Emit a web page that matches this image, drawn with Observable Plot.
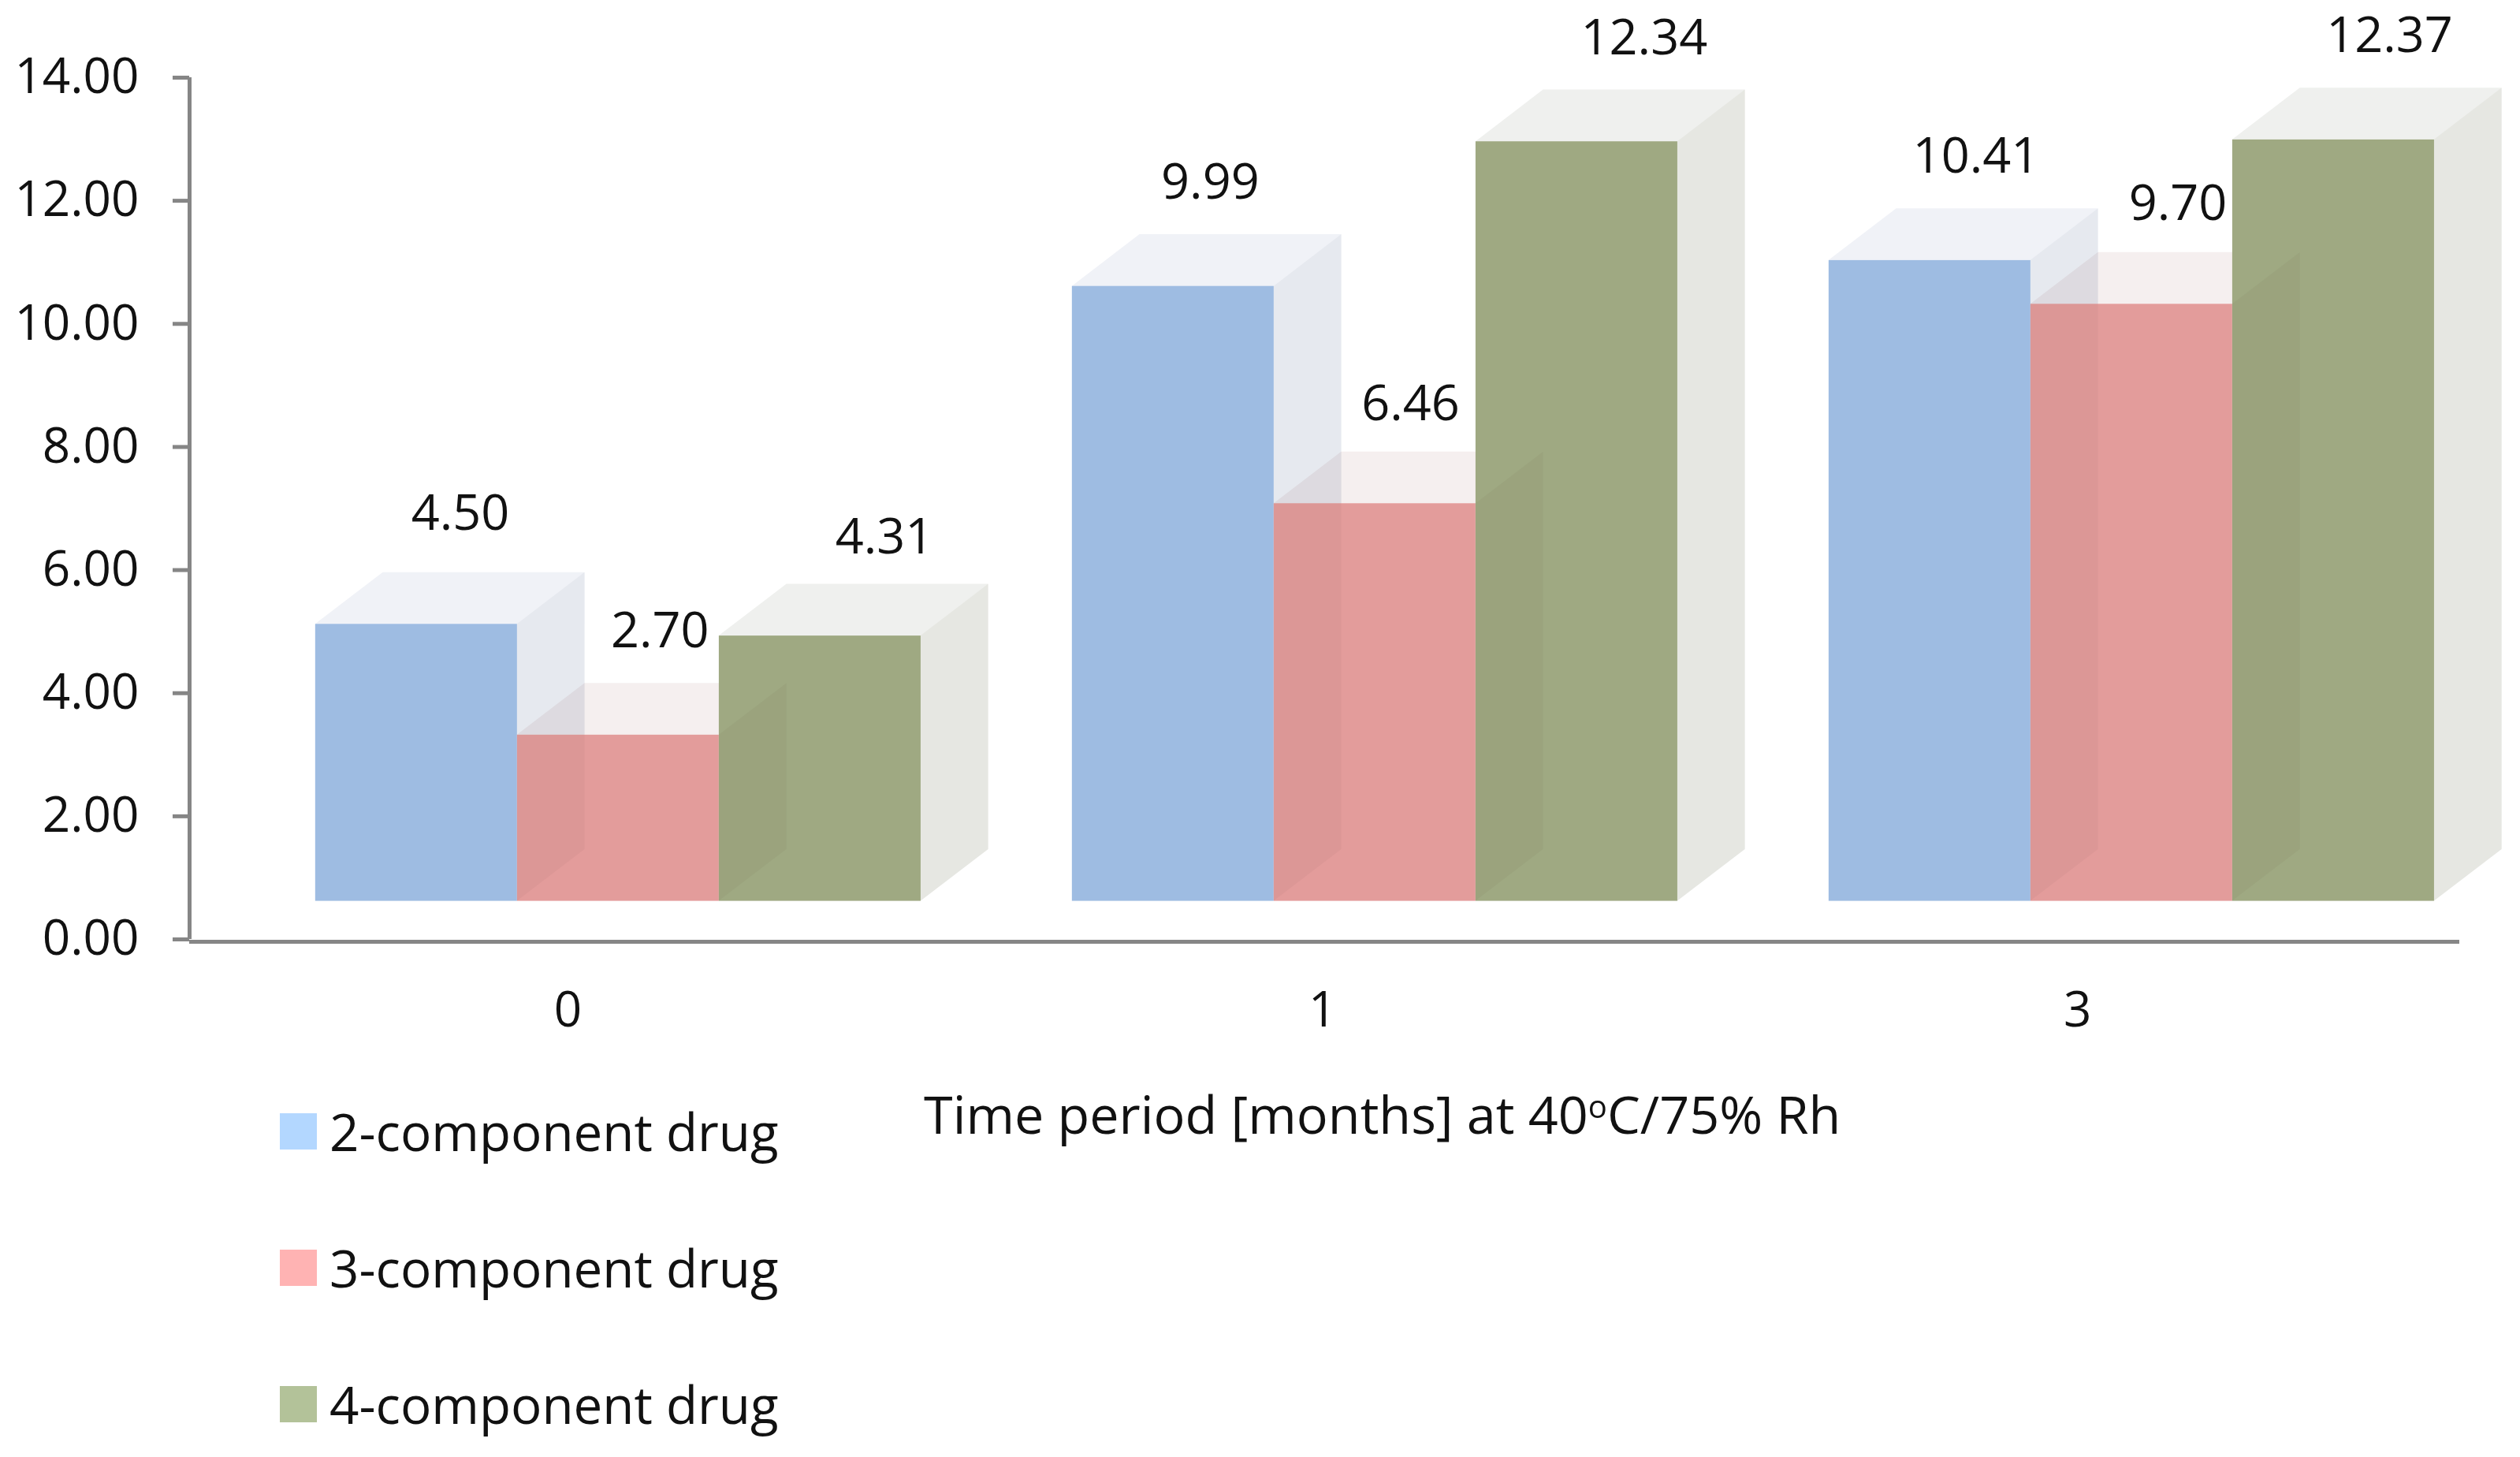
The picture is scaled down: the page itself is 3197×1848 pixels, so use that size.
<!DOCTYPE html>
<html>
<head>
<meta charset="utf-8">
<script src="https://cdn.jsdelivr.net/npm/d3@7"></script>
<script src="https://cdn.jsdelivr.net/npm/@observablehq/plot@0.6"></script>
<style>
  html, body { margin: 0; padding: 0; background: #fff; }
  #wrap { position: relative; width: 3197px; height: 1848px; overflow: hidden; font-family: "Open Sans", sans-serif; color: #111; }
  .xlabel { position: absolute; left: 1172px; top: 1370px; font-size: 66.5px; line-height: 84px; white-space: nowrap; }
  .xlabel sup { font-size: 40px; line-height: 0; vertical-align: 20px; }
  .legend-row { position: absolute; left: 355px; display: flex; align-items: center; gap: 16px; font-size: 65.5px; line-height: 84px; white-space: nowrap; }
  .legend-row i { display: block; width: 47px; height: 46px; }
</style>
</head>
<body>
<div id="wrap"></div>
<script>
const months = ["0", "1", "3"];
const seriesNames = ["2-component drug", "3-component drug", "4-component drug"];
const twoComponent = [4.50, 9.99, 10.41];
const threeComponent = [2.70, 6.46, 9.70];
const fourComponent = [4.31, 12.34, 12.37];
const yTicks = [0, 2, 4, 6, 8, 10, 12, 14];

const seriesValues = [twoComponent, threeComponent, fourComponent];
const frontColors = ["#9ebce2", "#e39c9b", "#9fa982"];
const topColors = ["#f0f2f7", "#f5efef", "#eff0ee"];
const sideColors = ["#e6e9ef", "#f5efef", "#e6e7e2"];
const swatchColors = ["#b3d7ff", "#ffb3b3", "#b3c299"];

// Pseudo-3D layout, in axis units
const groupInset = 0.1665, barWidth = 0.2667, depthX = 0.0893, lift = 0.62, depthY = 0.84;
// Data label nudges from the front-face centre and top-face back edge, by month then series
const labelNudgeX = [[0.058, 0.055, 0.085], [0.049, 0.047, 0.089], [0.061, 0.061, 0.074]];
const labelNudgeY = [[0.95, 0.84, 0.76], [0.84, 0.77, 0.84], [0.84, 0.79, 0.84]];

const geom = (si, gi) => {
  const xl = gi + groupInset + si * barWidth, xr = xl + barWidth;
  const yt = seriesValues[si][gi] + lift;
  return {xl, xr, yt, yb: lift};
};
const topFace = (si) => months.flatMap((_, gi) => {
  const {xl, xr, yt} = geom(si, gi);
  return [
    {id: gi, x: xl, y1: yt, y2: yt},
    {id: gi, x: xl + depthX, y1: yt, y2: yt + depthY},
    {id: gi, x: xr, y1: yt, y2: yt + depthY},
    {id: gi, x: xr + depthX, y1: yt + depthY, y2: yt + depthY}
  ];
});
const sideFace = (si) => months.flatMap((_, gi) => {
  const {xr, yt, yb} = geom(si, gi);
  return [
    {id: gi, x: xr, y1: yb, y2: yt},
    {id: gi, x: xr + depthX, y1: yb + depthY, y2: yt + depthY}
  ];
});
// Part of a side face that is seen through the neighbouring front face
const sideOverFront = (si) => months.flatMap((_, gi) => {
  const {xr, yt, yb} = geom(si, gi);
  const cap = geom(si + 1, gi).yt;
  return [
    {id: gi, x: xr, y1: yb, y2: Math.min(yt, cap)},
    {id: gi, x: xr + depthX, y1: yb + depthY, y2: Math.min(yt + depthY, cap)}
  ];
});
const fronts = (si) => months.map((_, gi) => {
  const {xl, xr, yt, yb} = geom(si, gi);
  return {x1: xl, x2: xr, y1: yb, y2: yt};
});
const labels = seriesValues.flatMap((vals, si) => vals.map((v, gi) => {
  const {xl, xr, yt} = geom(si, gi);
  return {x: (xl + xr) / 2 + labelNudgeX[gi][si], y: yt + depthY + labelNudgeY[gi][si], text: v.toFixed(2)};
}));

const plot = Plot.plot({
  width: 3197, height: 1848,
  marginLeft: 240, marginRight: 77, marginTop: 98, marginBottom: 657,
  style: {background: "transparent", fontFamily: '"Open Sans", sans-serif', fontSize: "62px", color: "#111"},
  x: {type: "linear", domain: [0, 3]},
  y: {type: "linear", domain: [0, 14]},
  marks: [
    [0, 1, 2].flatMap((si) => [
      Plot.area(topFace(si), {x1: "x", y1: "y1", y2: "y2", z: "id", fill: topColors[si], mixBlendMode: "multiply"}),
      Plot.area(sideFace(si), {x1: "x", y1: "y1", y2: "y2", z: "id", fill: sideColors[si], mixBlendMode: "multiply"})
    ]),
    [0, 1, 2].map((si) => Plot.rect(fronts(si), {x1: "x1", x2: "x2", y1: "y1", y2: "y2", fill: frontColors[si]})),
    [0, 1].map((si) => Plot.area(sideOverFront(si), {x1: "x", y1: "y1", y2: "y2", z: "id", fill: "#200808", fillOpacity: 0.03})),
    Plot.axisY({ticks: yTicks, tickFormat: (d) => d.toFixed(2), tickSize: 21, tickPadding: 43, label: null, stroke: "#868686", strokeWidth: 5, fontSize: 62, fill: "#111"}),
    Plot.axisX({ticks: [0.5, 1.497, 2.495], tickFormat: (d) => months[Math.floor(d)], tickSize: 0, tickPadding: 66, label: null, fontSize: 62, fill: "#111"}),
    Plot.ruleX([0], {y1: 0, y2: 14, stroke: "#868686", strokeWidth: 5}),
    Plot.ruleY([0], {x1: 0, x2: 3, stroke: "#868686", strokeWidth: 5, dy: 3}),
    Plot.text(labels, {x: "x", y: "y", text: "text", fontSize: 63, fill: "#111"})
  ]
});

const wrap = document.getElementById("wrap");
wrap.appendChild(plot);

const xlab = document.createElement("div");
xlab.className = "xlabel";
xlab.innerHTML = "Time period [months] at 40<sup>o</sup>C/75% Rh";
wrap.appendChild(xlab);

const legendTops = [1393, 1566, 1739];
seriesNames.forEach((name, i) => {
  const row = document.createElement("div");
  row.className = "legend-row";
  row.style.top = legendTops[i] + "px";
  const sw = document.createElement("i");
  sw.style.background = swatchColors[i];
  const t = document.createElement("span");
  t.textContent = name;
  row.append(sw, t);
  wrap.appendChild(row);
});
</script>
</body>
</html>
